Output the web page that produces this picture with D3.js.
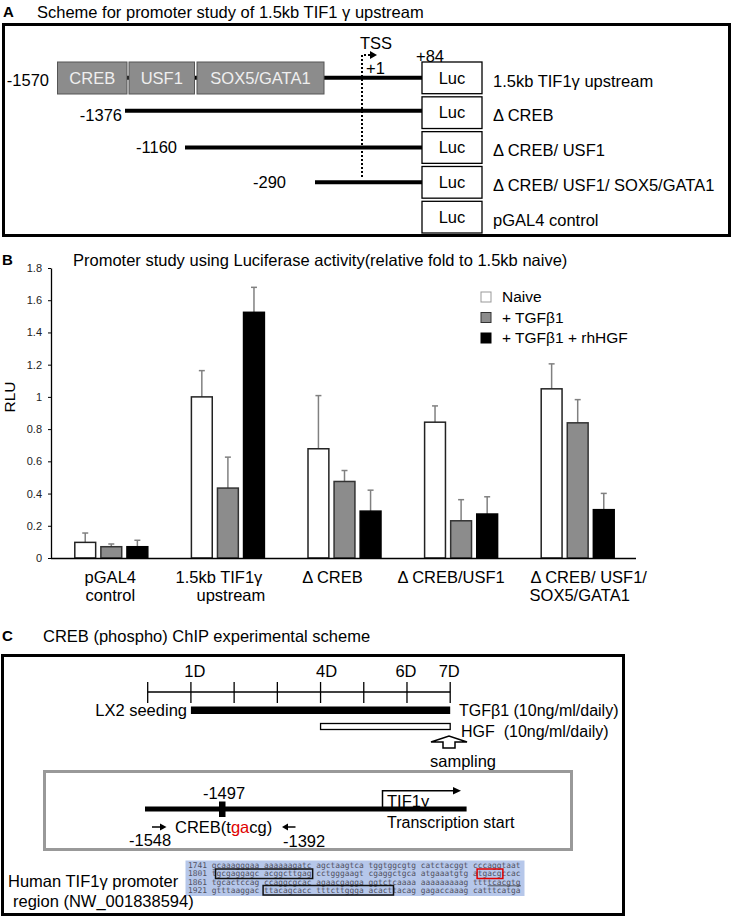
<!DOCTYPE html>
<html><head><meta charset="utf-8">
<script src="https://cdn.jsdelivr.net/npm/d3@7/dist/d3.min.js"></script>
<style>
body{margin:0;background:#fff}
svg{display:block;font-family:"Liberation Sans",Arial,sans-serif}
</style>
</head><body>
<svg id="c" width="733" height="918"></svg>
<script>
// ---------------- DATA ----------------
// Panel B (bar chart)
const categories = ["pGAL4 control", "1.5kb TIF1γ upstream", "Δ CREB", "Δ CREB/USF1", "Δ CREB/ USF1/ SOX5/GATA1"];
const categoryLines = [["pGAL4", "control"], ["1.5kb TIF1γ", "upstream"], ["Δ CREB"], ["Δ CREB/USF1"], ["Δ CREB/ USF1/", "SOX5/GATA1"]];
const seriesNames = ["Naive", "+ TGFβ1", "+ TGFβ1 + rhHGF"];
const naiveValues = [0.097, 1.0, 0.678, 0.843, 1.05];
const naiveErrors = [0.058, 0.163, 0.33, 0.101, 0.155];
const tgfValues = [0.07, 0.434, 0.475, 0.231, 0.839];
const tgfErrors = [0.017, 0.192, 0.068, 0.131, 0.144];
const hgfValues = [0.07, 1.525, 0.291, 0.273, 0.30];
const hgfErrors = [0.04, 0.155, 0.13, 0.107, 0.101];
const yTicks = [0, 0.2, 0.4, 0.6, 0.8, 1, 1.2, 1.4, 1.6, 1.8];

// Panel A (scheme)
const panelATitle = "Scheme for promoter study of 1.5kb TIF1 γ upstream";
const elementNames = ["CREB", "USF1", "SOX5/GATA1"];
const constructStarts = ["-1570", "-1376", "-1160", "-290"];
const constructNames = ["1.5kb TIF1γ upstream", "Δ CREB", "Δ CREB/ USF1", "Δ CREB/ USF1/ SOX5/GATA1", "pGAL4 control"];

// Panel C (ChIP scheme)
const panelCTitle = "CREB (phospho) ChIP experimental scheme";
const days = [0, 1, 2, 3, 4, 5, 6, 7];
const dayLabels = ["1D", "4D", "6D", "7D"];
const dayLabelDays = [1, 4, 6, 7];
const seqLines = [
  "1741 gcaaagggaa aaaaaagatc agctaagtca tggtggcgtg catctacggt cccaggtaat",
  "1801 tgcgaggagc acggcttgag cctgggaagt cgaggctgca atgaaatgtg atgacgccac",
  "1861 tgcactccag ccaggcgcac agaacgagga ggtctcaaaa aaaaaaaaag ttttcacgtg",
  "1921 gtttaaggac ttacagcacc tttcttggga acacttacag gagaccaaag catttcatga"
];

// ---------------- DRAW ----------------
const svg = d3.select("#c");
const T = (x, y, s, size, opts = {}) => {
  const t = svg.append("text").attr("x", x).attr("y", y).attr("dy", "0.35em")
    .attr("font-size", size).attr("fill", opts.fill || "#000").text(s);
  if (opts.anchor) t.attr("text-anchor", opts.anchor);
  if (opts.bold) t.attr("font-weight", "bold");
  return t;
};

// ===== Panel A =====
T(3, 12, "A", 15, {bold: true});
T(37, 12, panelATitle, 16.5);
svg.append("rect").attr("x", 3.5).attr("y", 24.5).attr("width", 726).attr("height", 211)
  .attr("fill", "none").attr("stroke", "#000").attr("stroke-width", 3);

// schematic bp scale (piecewise, not to scale)
const xA = d3.scaleLinear().domain([-1570, -1376, -1160, -290, 1, 84]).range([57, 125, 185, 315, 362, 422]);
const rowY = d3.scaleBand().domain(d3.range(5)).range([62, 233]).paddingInner(0.09);
const rowC = i => rowY(i) + rowY.bandwidth() / 2;

const startBp = [-1570, -1376, -1160, -290];
startBp.forEach((b, i) => {
  const ly = rowC(i) - (i === 1 ? 2 : 0);
  svg.append("line").attr("x1", xA(b)).attr("x2", xA(84)).attr("y1", ly).attr("y2", ly)
    .attr("stroke", "#000").attr("stroke-width", 4);
});
const elemX = [[57.5, 127], [129, 194.5], [197, 324]];
elementNames.forEach((n, i) => {
  svg.append("rect").attr("x", elemX[i][0]).attr("y", 62).attr("width", elemX[i][1] - elemX[i][0]).attr("height", 32)
    .attr("fill", "#8c8c8c").attr("stroke", "#555").attr("stroke-width", 1);
  T((elemX[i][0] + elemX[i][1]) / 2, 78, n, 16.5, {anchor: "middle", fill: "#efefef"});
});
const startLabelX = [49, 122, 177, 286];
const startLabelY = [80, 115, 147, 182];
constructStarts.forEach((s, i) => T(startLabelX[i], startLabelY[i], s, 16.5, {anchor: "end"}));
svg.append("path").attr("d", "M362,177 V55 H370").attr("fill", "none").attr("stroke", "#000")
  .attr("stroke-width", 2).attr("stroke-dasharray", "2,2");
svg.append("path").attr("d", "M370,51 L377,55 L370,59 Z").attr("fill", "#000");
T(360, 43, "TSS", 16.5);
T(366, 68, "+1", 16.5);
T(416, 56, "+84", 16.5);
constructNames.forEach((n, i) => {
  svg.append("rect").attr("x", 422).attr("y", rowY(i)).attr("width", 60).attr("height", rowY.bandwidth())
    .attr("fill", "#fff").attr("stroke", "#000").attr("stroke-width", 1.3);
  T(452, rowC(i), "Luc", 16.5, {anchor: "middle"});
  T(493, rowC(i) + 3, n, 16.5);
});

// ===== Panel B =====
T(2, 260, "B", 15, {bold: true});
T(73, 260, "Promoter study using Luciferase activity(relative fold to 1.5kb naive)", 16.5);

const y = d3.scaleLinear().domain([0, 1.8]).range([558, 268]);
const x0 = d3.scaleBand().domain(categories).range([53, 636]);
const x1 = d3.scaleBand().domain(seriesNames).range([0, 73]).paddingInner(0.2);
const fills = ["#ffffff", "#8c8c8c", "#000000"];
const strokes = ["#222", "#333", "#000"];
const valueSets = [naiveValues, tgfValues, hgfValues];
const errSets = [naiveErrors, tgfErrors, hgfErrors];

const yAxis = svg.append("g").attr("transform", "translate(51,0)")
  .call(d3.axisLeft(y).tickValues(yTicks).tickFormat(d => String(d)).tickSize(3).tickPadding(6).tickSizeOuter(0));
yAxis.select(".domain").attr("stroke", "#000").attr("stroke-width", 1.3);
yAxis.selectAll(".tick line").attr("stroke", "#000");
yAxis.selectAll("text").attr("font-size", 11).attr("font-family", '"Liberation Sans", Arial, sans-serif').attr("fill", "#222");

const plot = svg.append("g");
seriesNames.forEach((s, si) => {
  categories.forEach((c, ci) => {
    const v = valueSets[si][ci], e = errSets[si][ci];
    const bx = x0(c) + (x0.bandwidth() - 73) / 2 + x1(s);
    const cx = bx + x1.bandwidth() / 2;
    plot.append("line").attr("x1", cx).attr("x2", cx).attr("y1", y(v)).attr("y2", y(v + e))
      .attr("stroke", "#808080").attr("stroke-width", 1.5);
    plot.append("line").attr("x1", cx - 3).attr("x2", cx + 3).attr("y1", y(v + e)).attr("y2", y(v + e))
      .attr("stroke", "#808080").attr("stroke-width", 1.5);
    plot.append("rect").attr("x", bx).attr("y", y(v)).attr("width", x1.bandwidth()).attr("height", y(0) - y(v))
      .attr("fill", fills[si]).attr("stroke", strokes[si]).attr("stroke-width", 1.5);
  });
});
svg.append("line").attr("x1", 51).attr("x2", 636).attr("y1", 558.5).attr("y2", 558.5).attr("stroke", "#000").attr("stroke-width", 1.5);

const labelShift = [[-1, -1], [-9, 3], [-12], [-10], [11, 2]];
categories.forEach((c, ci) => {
  const cx = x0(c) + x0.bandwidth() / 2;
  categoryLines[ci].forEach((ln, li) => T(cx + labelShift[ci][li], 577 + li * 18, ln, 16.5, {anchor: "middle"}));
});
svg.append("text").attr("transform", "translate(10,397) rotate(-90)").attr("text-anchor", "middle").attr("dy", "0.35em")
  .attr("font-size", 15.5).text("RLU");
seriesNames.forEach((s, si) => {
  const ly = 297 + si * 20.5;
  svg.append("rect").attr("x", 481).attr("y", ly - 5).attr("width", 10).attr("height", 10)
    .attr("fill", fills[si]).attr("stroke", si === 0 ? "#999" : strokes[si]).attr("stroke-width", 1);
  T(502, ly, s, 15.5);
});

// ===== Panel C =====
T(2, 636, "C", 15, {bold: true});
T(43, 636, panelCTitle, 16.5);
svg.append("rect").attr("x", 2.5).attr("y", 655.5).attr("width", 621).attr("height", 259)
  .attr("fill", "none").attr("stroke", "#000").attr("stroke-width", 3);

const xd = d3.scaleLinear().domain([0, 7]).range([147.7, 450.2]);
svg.append("line").attr("x1", xd(0)).attr("x2", xd(7)).attr("y1", 692).attr("y2", 692).attr("stroke", "#000").attr("stroke-width", 1.3);
days.forEach(d => svg.append("line").attr("x1", xd(d)).attr("x2", xd(d)).attr("y1", 682).attr("y2", 703)
  .attr("stroke", "#000").attr("stroke-width", 1.3));
const dayLabelShift = [4, 6, -1, -1];
dayLabels.forEach((l, i) => T(xd(dayLabelDays[i]) + dayLabelShift[i], 671, l, 16.5, {anchor: "middle"}));
T(187, 710, "LX2 seeding", 16.5, {anchor: "end"});
svg.append("rect").attr("x", xd(1)).attr("y", 706.5).attr("width", xd(7) - xd(1)).attr("height", 7.5).attr("fill", "#000");
T(459, 710, "TGFβ1 (10ng/ml/daily)", 16);
svg.append("rect").attr("x", xd(4)).attr("y", 723.5).attr("width", xd(7) - xd(4)).attr("height", 6)
  .attr("fill", "#fff").attr("stroke", "#000").attr("stroke-width", 1.3);
T(461, 731, "HGF  (10ng/ml/daily)", 16).style("white-space", "pre");
svg.append("path").attr("d", "M431,742 L449,736 L467,742 L455,742 L455,748 L443,748 L443,742 Z")
  .attr("fill", "#fff").attr("stroke", "#000").attr("stroke-width", 1.5);
T(463, 761, "sampling", 16.5, {anchor: "middle"});

svg.append("rect").attr("x", 44.5).attr("y", 771.5).attr("width", 527).attr("height", 78)
  .attr("fill", "none").attr("stroke", "#999").attr("stroke-width", 3);
T(387, 801, "TIF1γ", 16.5);
svg.append("line").attr("x1", 145).attr("x2", 466.6).attr("y1", 809).attr("y2", 809).attr("stroke", "#000").attr("stroke-width", 5);
svg.append("rect").attr("x", 219).attr("y", 801.5).attr("width", 6.5).attr("height", 15.5).attr("fill", "#000");
T(224, 793, "-1497", 16.5, {anchor: "middle"});
svg.append("path").attr("d", "M382.5,809 V790.7 H454").attr("fill", "none").attr("stroke", "#000").attr("stroke-width", 1.5);
svg.append("path").attr("d", "M453,787 L461,790.7 L453,794.4 Z").attr("fill", "#000");
T(387, 822, "Transcription start", 16);
svg.append("line").attr("x1", 152).attr("x2", 161).attr("y1", 827).attr("y2", 827).attr("stroke", "#000").attr("stroke-width", 1.5);
svg.append("path").attr("d", "M160,823.5 L166.5,827 L160,830.5 Z").attr("fill", "#000");
svg.append("line").attr("x1", 295.5).attr("x2", 287).attr("y1", 827).attr("y2", 827).attr("stroke", "#000").attr("stroke-width", 1.5);
svg.append("path").attr("d", "M288,823.5 L282,827 L288,830.5 Z").attr("fill", "#000");
const creb = T(175, 827, "", 16.5);
creb.append("tspan").text("CREB(t");
creb.append("tspan").attr("fill", "#e00000").text("ga");
creb.append("tspan").text("cg)");
T(129, 840, "-1548", 16.5);
T(283, 841, "-1392", 16.5);

// sequence
svg.append("rect").attr("x", 185.5).attr("y", 860.5).attr("width", 339).attr("height", 35.5).attr("fill", "#b6c7ea");
T(8, 881, "Human TIF1γ promoter", 16.5);
T(13, 901, "region (NW_001838594)", 16.5);
const cw = 7.9 * 0.602;
const sx = 188;
const seqY = [865.3, 873.5, 881.8, 890];
seqLines.forEach((ln, i) => {
  svg.append("text").attr("x", sx).attr("y", seqY[i]).attr("dy", "0.35em").attr("font-size", 7.9)
    .attr("font-family", '"DejaVu Sans Mono", monospace').attr("fill", "#50505e").style("white-space", "pre").text(ln);
});
const boxAt = (line, a, b, color) => svg.append("rect").attr("x", sx + a * cw - 1).attr("y", seqY[line] - 4.5)
  .attr("width", (b - a) * cw + 2).attr("height", 9.5).attr("fill", "none").attr("stroke", color).attr("stroke-width", 1.5);
boxAt(1, 6, 26, "#111");
boxAt(3, 16, 43, "#111");
boxAt(1, 61, 66, "#e00000");
svg.append("line").attr("x1", sx + 63 * cw).attr("x2", sx + 70 * cw).attr("y1", seqY[2] + 4).attr("y2", seqY[2] + 4)
  .attr("stroke", "#333").attr("stroke-width", 0.8);
</script>
</body></html>
